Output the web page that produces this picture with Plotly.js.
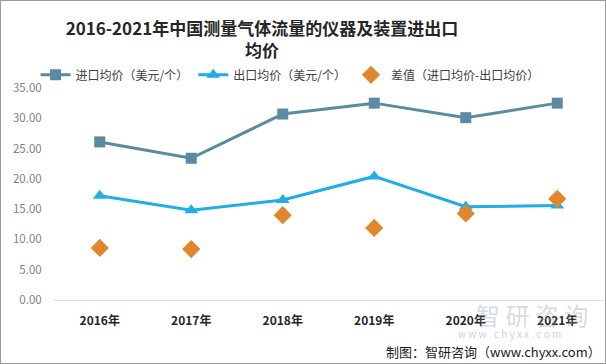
<!DOCTYPE html>
<html><head><meta charset="utf-8">
<script src="https://cdn.plot.ly/plotly-3.0.1.min.js"></script>
<style>
html,body{margin:0;padding:0;background:#fff;}
#wrap{width:606px;height:364px;box-sizing:border-box;border:1px solid #9a9a9a;overflow:hidden;}
#chart{width:604px;height:362px;}
</style></head>
<body><div id="wrap"><div id="chart"></div></div>
<script>
const years = ['2016年','2017年','2018年','2019年','2020年','2021年'];
const importPrice = [26.1, 23.4, 30.7, 32.5, 30.1, 32.5];
const exportPrice = [17.2, 14.8, 16.5, 20.4, 15.4, 15.6];
const diffPrice = [8.6, 8.4, 14.0, 11.9, 14.3, 16.7];
const yTicks = [0,5,10,15,20,25,30,35];

const font = '"Microsoft YaHei","Noto Sans CJK SC","Noto Sans",sans-serif';
const traces = [
  {x: years, y: importPrice, name: '进口均价（美元/个）', type: 'scatter', mode: 'lines+markers',
   line: {color: '#5B8BA1', width: 3}, marker: {symbol: 'square', size: 11, color: '#5B8BA1'}},
  {x: years, y: exportPrice, name: '出口均价（美元/个）', type: 'scatter', mode: 'lines+markers',
   line: {color: '#21AEE6', width: 3}, marker: {symbol: 'triangle-up', size: 12, color: '#21AEE6'}},
  {x: years, y: diffPrice, name: '差值（进口均价-出口均价）', type: 'scatter', mode: 'markers',
   marker: {symbol: 'diamond', size: 14, color: '#E0872E'}}
];
const layout = {
  width: 604, height: 362,
  margin: {l: 53, r: 2, t: 87, b: 63},
  paper_bgcolor: '#fff', plot_bgcolor: '#fff',
  showlegend: true,
  title: {text: '<b>2016-2021年中国测量气体流量的仪器及装置进出口<br>均价</b>', x: 0.432, xanchor: 'center', y: 0.905, yanchor: 'top',
    font: {family: font, size: 17, color: '#262626'}},
  legend: {orientation: 'h', x: 0.43, xanchor: 'center', y: 1.062, yanchor: 'middle', bgcolor: 'rgba(0,0,0,0)',
    font: {family: font, size: 12, color: '#404040'}, itemwidth: 30, tracegroupgap: 0},
  xaxis: {type: 'category', showgrid: false, zeroline: false, showline: true, linecolor: '#d9d9d9', linewidth: 1,
    ticks: 'outside', ticklen: 10, tickcolor: 'rgba(0,0,0,0)',
    tickfont: {family: font, size: 12, color: '#262626', weight: 'bold'}, range: [-0.5, 5.5]},
  yaxis: {range: [0, 35], tickvals: yTicks, tickformat: '.2f', showgrid: false, zeroline: false, showline: false,
    ticks: 'outside', ticklen: 9, tickcolor: 'rgba(0,0,0,0)',
    tickfont: {family: font, size: 11.5, color: '#7f7f7f'}, fixedrange: true},
  annotations: [
    {xref: 'paper', yref: 'paper', x: 0.87, y: -0.07, xanchor: 'center', yanchor: 'middle', showarrow: false,
     text: '智 研 咨 询', font: {family: font, size: 24, color: 'rgba(150,160,175,0.4)'}},
    {xref: 'paper', yref: 'paper', x: 0.83, y: -0.16, xanchor: 'center', yanchor: 'middle', showarrow: false,
     text: 'w w w . c h y x x . c o m', font: {family: font, size: 10, color: 'rgba(150,160,175,0.5)'}},
    {xref: 'paper', yref: 'paper', x: 1.0, y: -0.245, xanchor: 'right', yanchor: 'middle', showarrow: false,
     text: '制图：智研咨询（www.chyxx.com）', font: {family: font, size: 13, color: '#1a1a1a'}}
  ]
};
Plotly.newPlot('chart', traces, layout, {displayModeBar: false, staticPlot: true});
</script></body></html>
